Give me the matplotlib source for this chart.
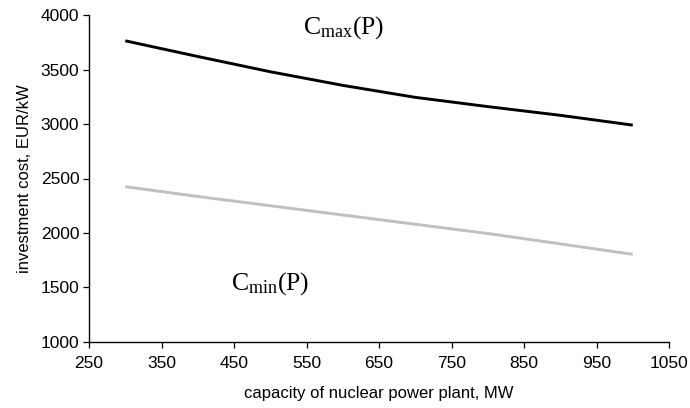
import matplotlib
matplotlib.use("Agg")
import matplotlib.pyplot as plt

# dane
capacity = [300, 400, 500, 600, 700, 800, 900, 1000]          # MW
cost_max = [3764, 3620, 3480, 3355, 3245, 3160, 3080, 2990]   # EUR/kW
cost_min = [2425, 2335, 2250, 2165, 2080, 1995, 1900, 1804]   # EUR/kW

x_ticks = [250, 350, 450, 550, 650, 750, 850, 950, 1050]
y_ticks = [1000, 1500, 2000, 2500, 3000, 3500, 4000]

plt.rcParams["font.family"] = ["Liberation Sans", "DejaVu Sans"]
plt.rcParams["mathtext.fontset"] = "custom"
plt.rcParams["mathtext.rm"] = "Liberation Serif"
plt.rcParams["mathtext.it"] = "Liberation Serif:italic"

fig = plt.figure(figsize=(6.9, 4.08), dpi=100)
ax = fig.add_axes([0.129, 0.162, 0.8406, 0.801])

ax.plot(capacity, cost_max, color="black", lw=2.1, solid_capstyle="butt")
ax.plot(capacity, cost_min, color="#c0c0c0", lw=2.1, solid_capstyle="butt")

ax.set_xlim(250, 1050)
ax.set_ylim(1000, 4000)
ax.set_xticks(x_ticks)
ax.set_yticks(y_ticks)
ax.tick_params(direction="out", length=4, width=0.9, labelsize=12.5)
ax.tick_params(axis="x", pad=6)
ax.tick_params(axis="y", pad=3)

for s in ("top", "right"):
    ax.spines[s].set_visible(False)
for s in ("left", "bottom"):
    ax.spines[s].set_linewidth(1.0)

ax.set_xlabel("capacity of nuclear power plant, MW", fontsize=12, labelpad=11)
ax.set_ylabel("investment cost, EUR/kW", fontsize=12, labelpad=6)

ax.text(545, 3832, r"$\mathrm{C}_{\mathrm{max}}\mathrm{(P)}$", fontsize=18.5,
        ha="left", va="baseline")
ax.text(446, 1477, r"$\mathrm{C}_{\mathrm{min}}\mathrm{(P)}$", fontsize=18.5,
        ha="left", va="baseline")

fig.savefig("out.png", dpi=100)
